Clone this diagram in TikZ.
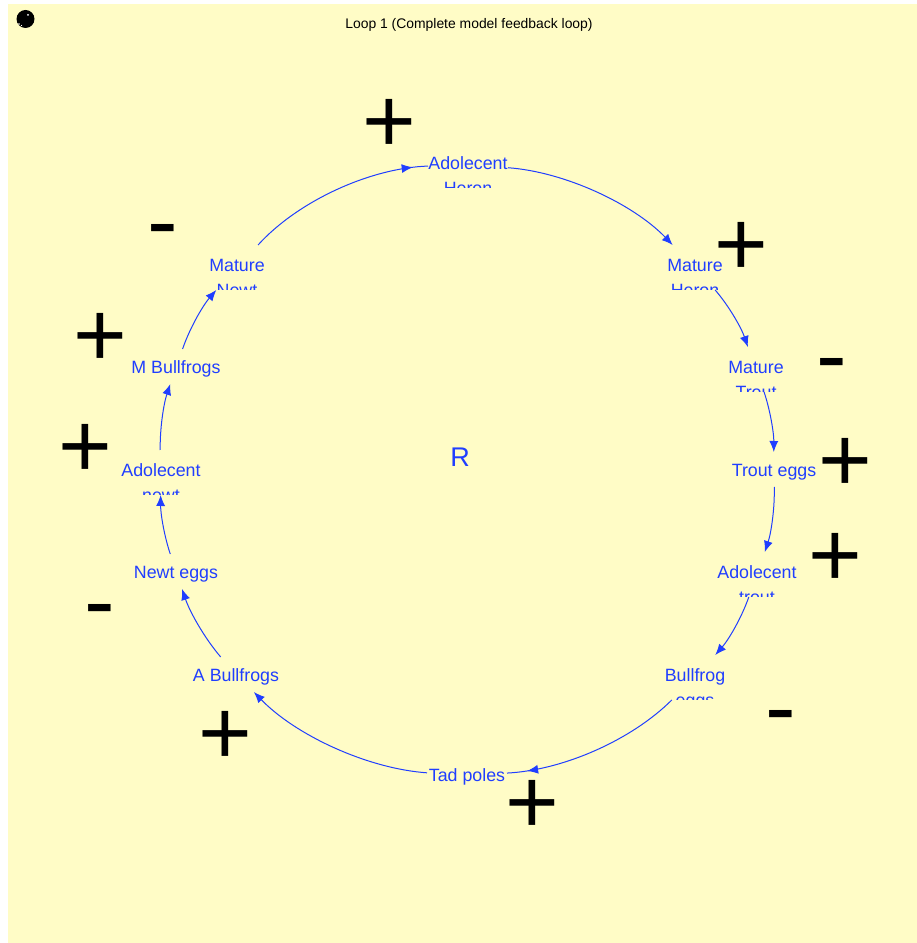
\documentclass[tikz,border=0pt]{standalone}
\usepackage{fontspec}
\setmainfont{Liberation Sans}
\usetikzlibrary{arrows.meta, decorations.markings}

\definecolor{paper}{RGB}{255,252,198}
\definecolor{loopblue}{RGB}{32,62,255}

\tikzset{
  boxtext/.style={text=loopblue, font=\fontsize{17.8}{20}\selectfont, inner sep=0pt, outer sep=0pt},
  onebox/.style={boxtext, minimum width=#1, text height=25pt, text depth=10pt},
  twobox/.style={boxtext, minimum width=#1, text height=27pt, text depth=18pt},
  % second line, cut off by the box
  cutword/.style={path picture={\node[boxtext, anchor=base, text height=, text depth=] at ([yshift=-29.5pt]path picture bounding box.center) {#1};}},
  link/.style={draw=loopblue, line width=1pt, -{Latex[length=11pt,width=9pt]}, bend left=#1, looseness=0.8},
  midlink/.style={draw=loopblue, line width=1pt, looseness=0.8, postaction={decorate},
    decoration={markings, mark=at position #1 with {\arrow{Latex[length=11pt,width=9pt]}}}},
  plusminus/.style={font=\fontsize{92}{92}\selectfont, inner sep=0pt}
}

\begin{document}
\begin{tikzpicture}[x=1pt,y=1pt]
\useasboundingbox (0,0) rectangle (917,943);
\fill[white] (0,0) rectangle (917,943);
\fill[paper] (8,0) rectangle (917,939);

% ball in the corner
\fill[black] (25.5,924) circle (9);
\fill[white] (28,928) circle (1);
\fill[white] (19,919) circle (0.8);
\fill[white] (21.5,917.5) circle (0.7);

\node (title) at (469,918) {\fontsize{13.9}{15}\selectfont Loop 1 (Complete model feedback loop)};
\node[text=loopblue] (rr) at (460,486) {\fontsize{27}{30}\selectfont R};

% the twelve boxes, clockwise from the top
\node[twobox=80, cutword=Heron] (adoh) at (468,777.5) {Adolecent};
\node[twobox=54, cutword=Heron] (mheron) at (695,675.5) {Mature};
\node[twobox=54, cutword=Trout] (mtrout) at (756,573.5) {Mature};
\node[onebox=88] (teggs) at (774,473.5) {Trout eggs};
\node[twobox=82, cutword=trout] (adot) at (757,368.5) {Adolecent};
\node[twobox=62, cutword=eggs] (beggs) at (695,265.5) {Bullfrog};
\node[onebox=80] (tad) at (467,168.5) {Tad poles};
\node[onebox=88] (abull) at (236,268.5) {A Bullfrogs};
\node[onebox=88] (neggs) at (176,371.5) {Newt eggs};
\node[twobox=82, cutword=newt] (adon) at (161,470.5) {Adolecent};
\node[onebox=90] (mbull) at (176,576.5) {M Bullfrogs};
\node[twobox=54, cutword=Newt] (mnewt) at (237,675.5) {Mature};

% the loop
\draw[link=21] (adoh) to (mheron);
\draw[link=11] (mheron) to (mtrout);
\draw[link=9.5] (mtrout) to (teggs);
\draw[link=10] (teggs) to (adot);
\draw[link=11] (adot) to (beggs);
\draw[midlink=0.89, bend left=21] (beggs) to (tad);
\draw[link=21] (tad) to (abull);
\draw[link=11] (abull) to (neggs);
\draw[link=9.5] (neggs) to (adon);
\draw[link=10] (adon) to (mbull);
\draw[link=11] (mbull) to (mnewt);
\draw[midlink=0.92, bend left=23] (mnewt) to (adoh);

% the signs
\node[plusminus] (sa) at (389,817) {+};
\node[plusminus] (sb) at (741,694) {+};
\node[plusminus] (sc) at (832,571) {-};
\node[plusminus] (sd) at (845,478) {+};
\node[plusminus] (se) at (835,383) {+};
\node[plusminus] (sf) at (781,219) {-};
\node[plusminus] (sg) at (532,136) {+};
\node[plusminus] (sh) at (225,205) {+};
\node[plusminus] (si) at (100,325) {-};
\node[plusminus] (sj) at (85,492) {+};
\node[plusminus] (sk) at (100,603) {+};
\node[plusminus] (sl) at (163,705) {-};
\end{tikzpicture}
\end{document}
